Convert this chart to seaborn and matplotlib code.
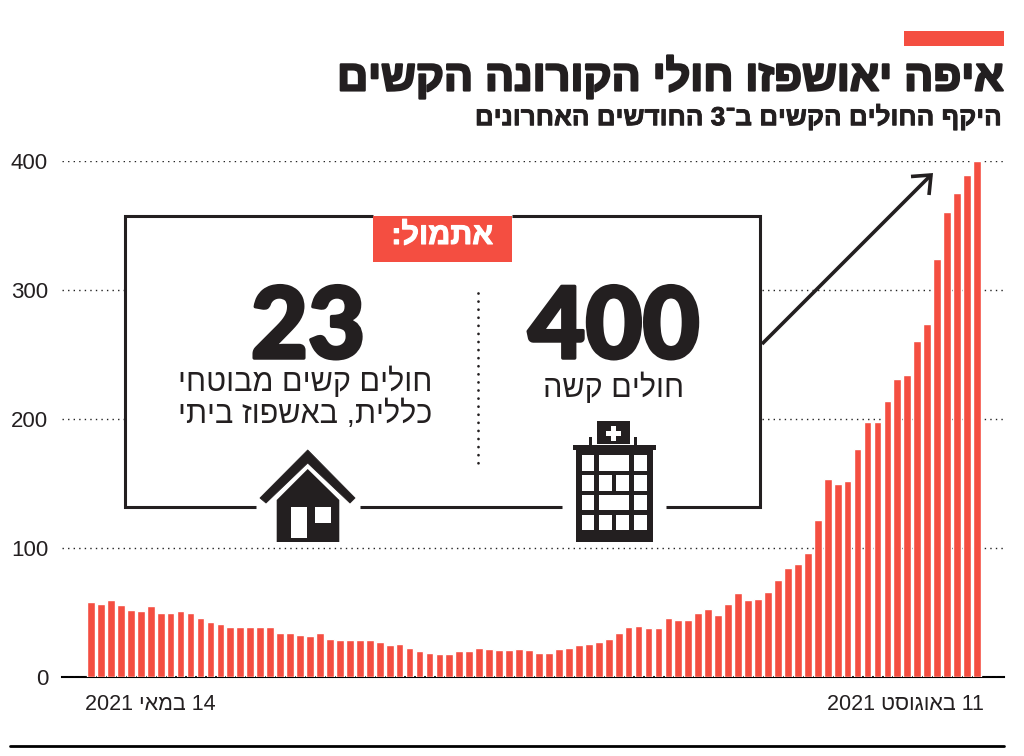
import re
import numpy as np
import pandas as pd
import matplotlib
matplotlib.use("Agg")
import matplotlib.pyplot as plt
import matplotlib.patheffects as pe
from matplotlib.patches import Polygon, Rectangle
from matplotlib.transforms import ScaledTranslation
import seaborn as sns

days = pd.date_range("2021-05-14", "2021-08-11").strftime("%Y-%m-%d").tolist()
patients = [58, 57, 60, 56, 52, 51, 55, 50, 50, 51, 50, 46, 43, 41, 39, 39, 39, 39, 39,
            34, 34, 33, 32, 34, 30, 29, 29, 29, 29, 27, 25, 26, 23, 20, 19, 18, 18, 20,
            20, 23, 22, 21, 21, 22, 21, 19, 19, 22, 23, 25, 26, 27, 30, 34, 39, 40, 38,
            38, 46, 44, 44, 50, 53, 48, 57, 65, 60, 61, 66, 75, 85, 88, 96, 122, 154,
            150, 152, 177, 198, 198, 214, 231, 234, 261, 274, 324, 361, 375, 389, 400]
y_ticks = [0, 100, 200, 300, 400]
date_labels = ["14 במאי 2021", "11 באוגוסט 2021"]

title = "איפה יאושפזו חולי הקורונה הקשים"
subtitle = "היקף החולים הקשים ב־3 החודשים האחרונים"
flag = "אתמול:"
left_num, right_num = "23", "400"
right_note = "חולים קשה"
left_note = ["חולים קשים מבוטחי", "כללית, באשפוז ביתי"]

RED = "#F44E41"
INK = "#231F20"
HEB = "Liberation Sans"


def vis(s):
    # matplotlib has no bidi: flip the string, keep the digit runs readable
    return re.sub(r"\d+", lambda m: m.group()[::-1], s[::-1])


sns.set_theme(style="white")
plt.rcParams["font.family"] = [HEB, "DejaVu Sans"]

fig = plt.figure(figsize=(10.24, 7.56), dpi=100)
W, H = 1024, 756

# bars
ax = fig.add_axes([62 / W, (H - 677.2) / H, (1004 - 62) / W, 516 / H])
sns.barplot(x=days, y=patients, color=RED, saturation=1, width=0.78, ax=ax)
ax.set_xlim(-2.91, 91.71)
ax.set_ylim(0, 400)
ax.set_xlabel("")
ax.set_ylabel("")
ax.set_yticks(y_ticks)
ax.set_yticklabels([str(v) for v in y_ticks], fontsize=16, color=INK)
ax.set_xticks([0, len(days) - 1])
ax.set_xticklabels([vis(s) for s in date_labels], fontsize=15.5, color=INK)
ax.tick_params(axis="both", length=0)
ax.tick_params(axis="y", pad=10)
ax.tick_params(axis="x", pad=12)
ax.grid(axis="y", color="#222222", linestyle=(0, (1, 3)), linewidth=1)
ax.set_axisbelow(True)
for side in ["top", "left", "right"]:
    ax.spines[side].set_visible(False)
ax.spines["bottom"].set_color("black")
ax.spines["bottom"].set_linewidth(1.5)
ax.spines["bottom"].set_zorder(0.5)
xl = ax.get_xticklabels()
xl[0].set_ha("left")
xl[0].set_transform(xl[0].get_transform() + ScaledTranslation(-6 / 100, 0, fig.dpi_scale_trans))
xl[1].set_ha("right")
xl[1].set_transform(xl[1].get_transform() + ScaledTranslation(7 / 100, 0, fig.dpi_scale_trans))

# overlay in pixel coordinates for the annotation panel
ov = fig.add_axes([0, 0, 1, 1])
ov.set_xlim(0, W)
ov.set_ylim(H, 0)
ov.axis("off")
ov.patch.set_alpha(0)


def thick(w):
    return [pe.withStroke(linewidth=w, foreground=INK)]


ov.add_patch(Rectangle((904, 31), 100, 15, color=RED, lw=0))
ov.plot([10, 1004], [746, 746], color="black", lw=2)
ov.text(1003, 78, vis(title), ha="right", va="center", fontsize=31, fontweight="bold",
        color=INK, path_effects=thick(1.6))
ov.text(1003, 117, vis(subtitle), ha="right", va="center", fontsize=18.8, fontweight="bold",
        color=INK, path_effects=thick(0.6))

# panel
ov.add_patch(Rectangle((125, 216), 635, 291, fc="white", ec="none"))
line_kw = dict(color=INK, lw=2.2, solid_capstyle="butt", solid_joinstyle="miter")
ov.plot([373, 125, 125, 256], [216, 216, 507, 507], **line_kw)
ov.plot([360, 562], [507, 507], **line_kw)
ov.plot([666, 760, 760, 512], [507, 507, 216, 216], **line_kw)
ov.add_patch(Rectangle((373, 216), 139, 46, color=RED, lw=0, zorder=3))
ov.text(442, 236, vis(flag), ha="center", va="center", fontsize=22, fontweight="bold",
        color="white", zorder=4, path_effects=[pe.withStroke(linewidth=0.8, foreground="white")])
ov.plot([478, 478], [293, 465], color=INK, lw=2, linestyle=(0, (0.01, 2.9)), dash_capstyle="round")

num_kw = dict(ha="center", va="baseline", fontweight="black", color=INK,
              family="Lato", path_effects=thick(2.5))
ov.text(614, 358, right_num, fontsize=71, **num_kw)
ov.text(308, 358, left_num, fontsize=71, **num_kw)
ov.text(614, 388, vis(right_note), ha="center", va="center", fontsize=22, color=INK)
ov.text(432, 382, vis(left_note[0]), ha="right", va="center", fontsize=22, color=INK)
ov.text(432, 415, vis(left_note[1]), ha="right", va="center", fontsize=22, color=INK)

# arrow
arrow_kw = dict(color=INK, lw=2.6, solid_capstyle="butt", solid_joinstyle="miter")
ov.plot([762, 931], [344, 175], **arrow_kw)
ov.plot([911, 931, 929], [176.5, 175, 195], **arrow_kw)

# house icon
ov.add_patch(Polygon([(307.7, 450), (355, 498), (350, 503), (307.7, 463), (266, 503), (260, 498)],
                     fc=INK, ec=INK, lw=0.6, joinstyle="round"))
ov.add_patch(Polygon([(276.7, 500), (307.7, 469), (339.3, 500), (339.3, 542), (276.7, 542)], fc=INK, lw=0))
ov.add_patch(Rectangle((290.7, 507.3), 16, 30.4, fc="white", lw=0))
ov.add_patch(Rectangle((315.3, 507.3), 16, 16, fc="white", lw=0))

# hospital icon
ov.add_patch(Rectangle((575.7, 450), 77, 92, fc=INK, lw=0))
ov.add_patch(Rectangle((572.7, 445), 83, 5, fc=INK, lw=0))
ov.add_patch(Rectangle((596.7, 421), 33.3, 23, fc=INK, lw=0))
ov.add_patch(Rectangle((589.3, 437), 2.7, 8, fc=INK, lw=0))
ov.add_patch(Rectangle((634, 437), 2.7, 8, fc=INK, lw=0))
ov.add_patch(Rectangle((605.8, 431.1), 15, 4.5, fc="white", lw=0))
ov.add_patch(Rectangle((611.1, 425.8), 4.5, 15, fc="white", lw=0))
wide_row = [(581.7, 12.7), (599, 30), (633.7, 13)]
split_row = [(581.7, 12.7), (599, 12.7), (616.3, 12.7), (633.7, 13)]
for top, h, cells in [(455.3, 15.7, wide_row), (475, 16, split_row), (495, 15.3, wide_row), (515, 15.3, split_row)]:
    for x0, w in cells:
        ov.add_patch(Rectangle((x0, top), w, h, fc="white", lw=0))

fig.savefig("out.png", dpi=100, facecolor="white")
